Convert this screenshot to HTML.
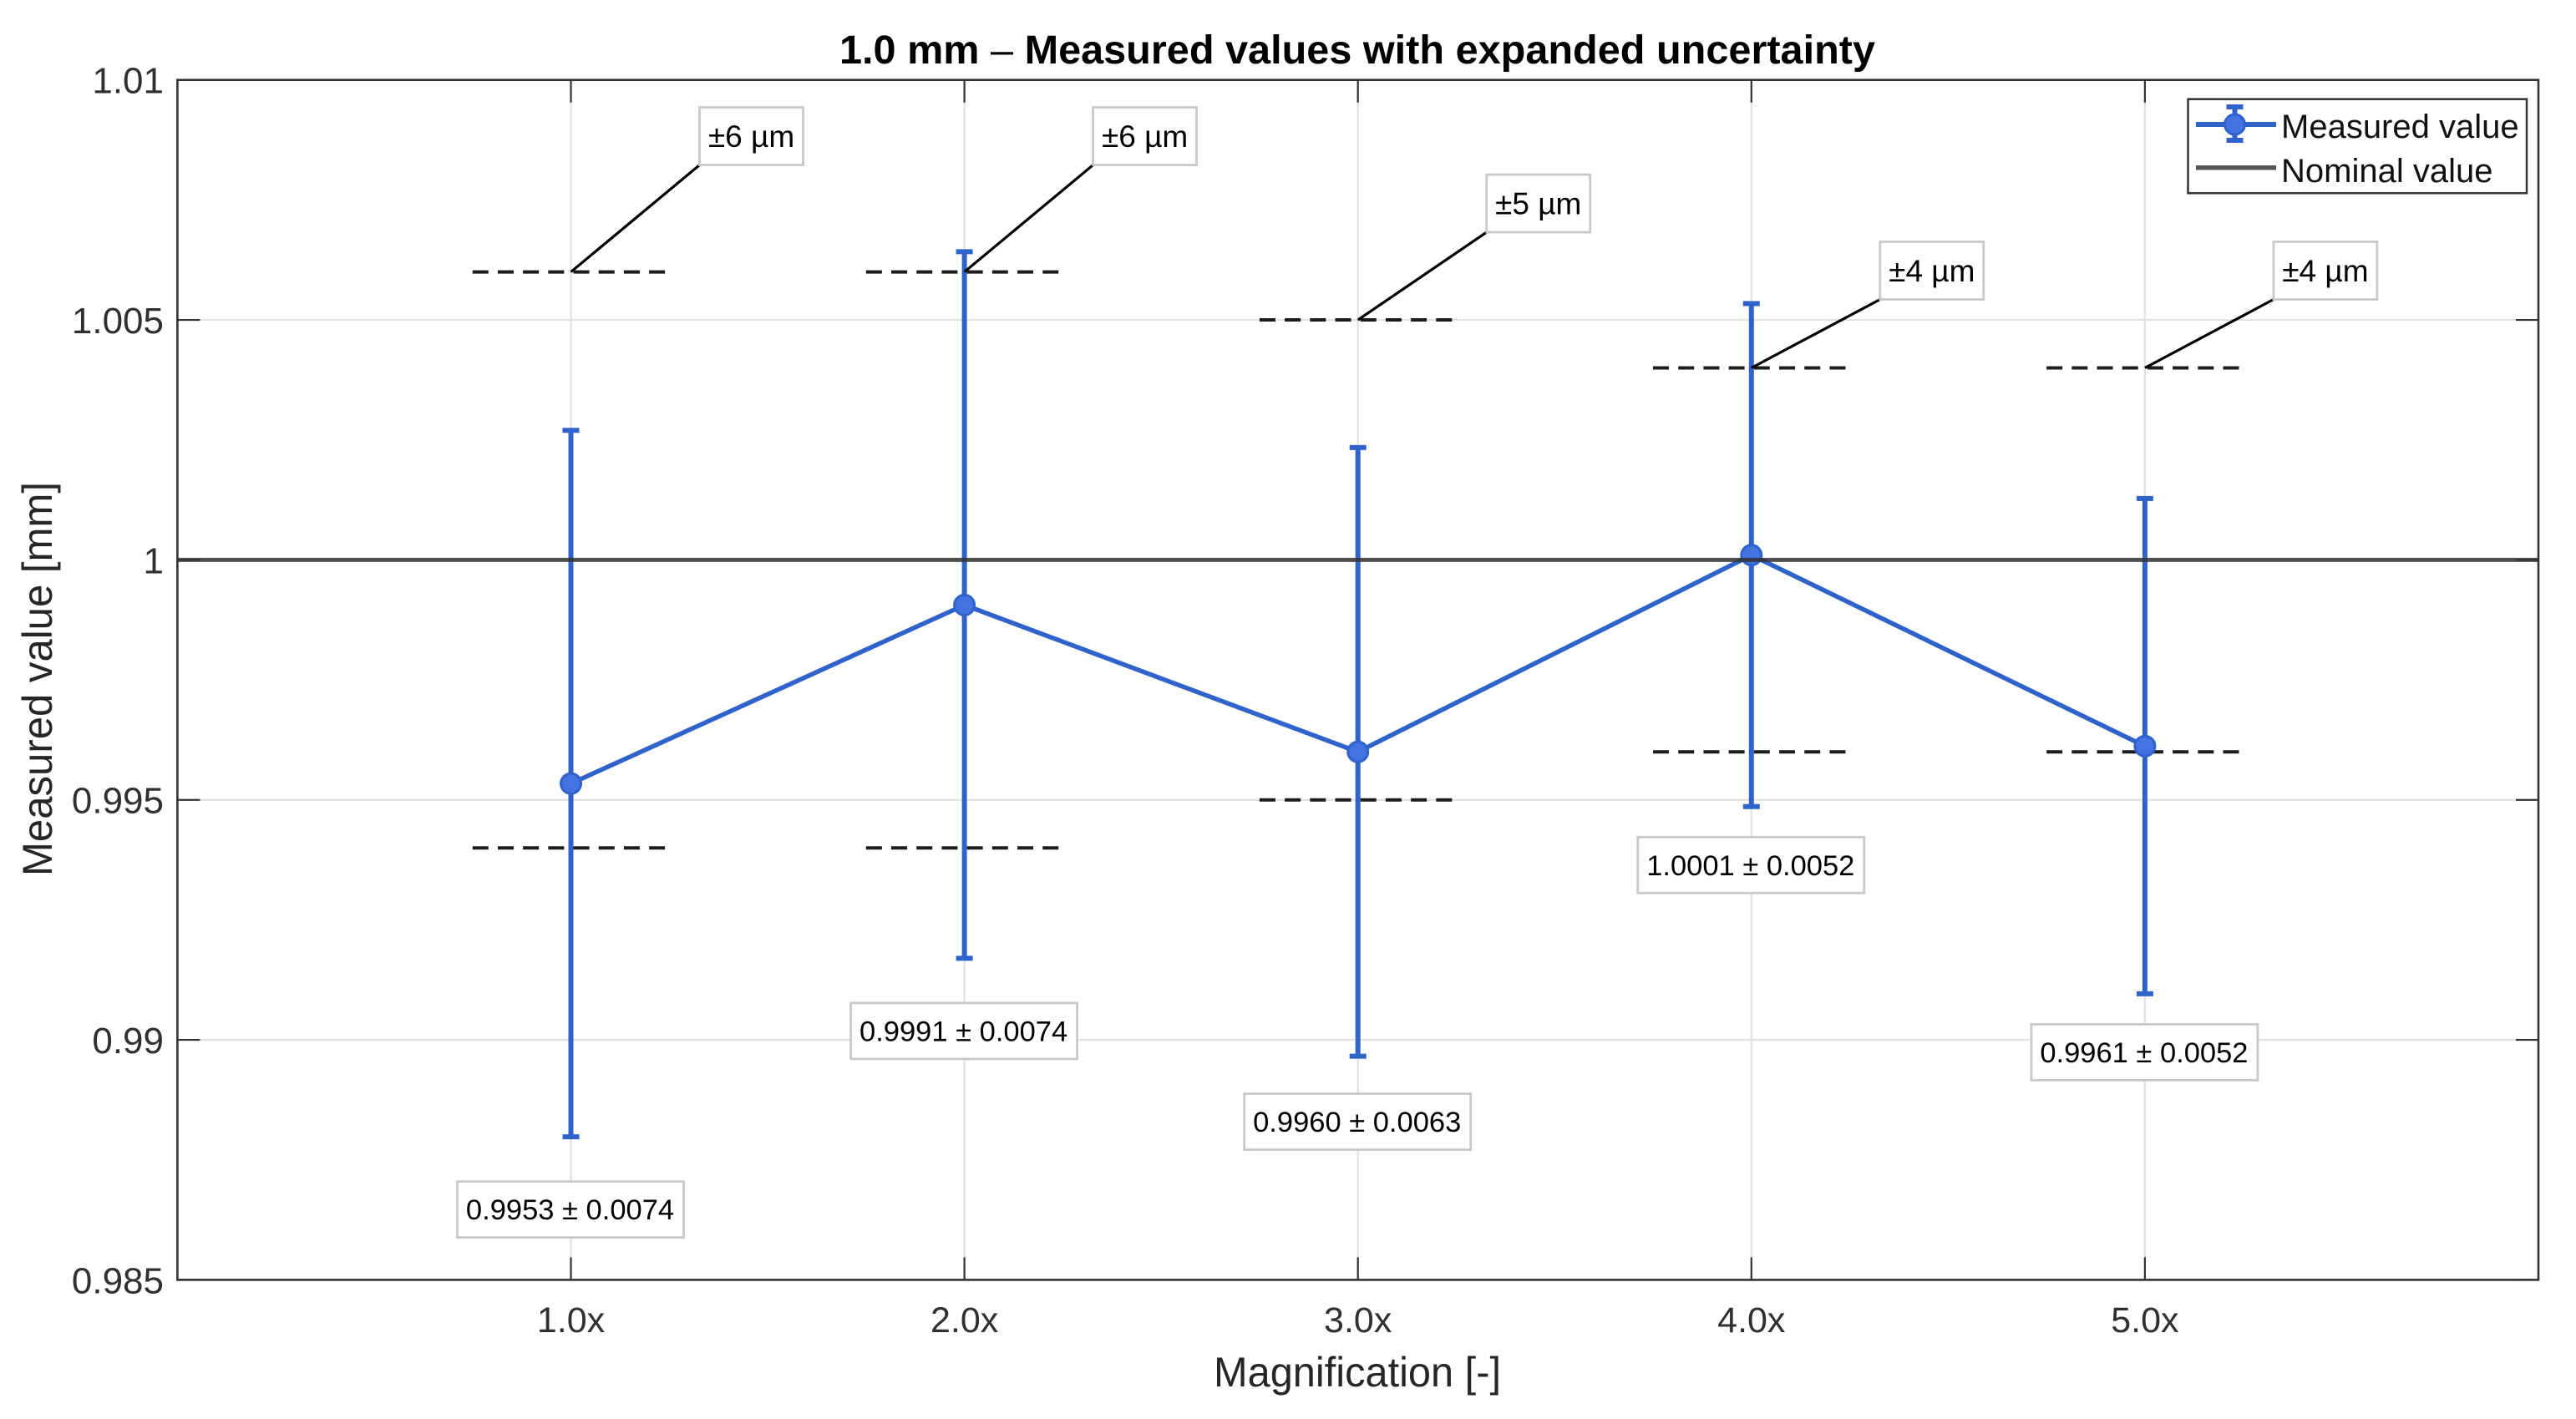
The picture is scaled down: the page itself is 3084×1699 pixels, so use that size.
<!DOCTYPE html>
<html lang="en">
<head>
<meta charset="utf-8">
<title>1.0 mm – Measured values with expanded uncertainty</title>
<style>
  html, body { margin: 0; padding: 0; background: #fff; }
  body { width: 3084px; height: 1699px; overflow: hidden; }
  svg { display: block; font-family: "Liberation Sans", Arial, sans-serif; }
</style>
</head>
<body>
<svg id="chart" xmlns="http://www.w3.org/2000/svg" width="3084" height="1699" viewBox="0 0 3084 1699">
  <rect x="0" y="0" width="3084" height="1699" fill="#ffffff"/>
  <text x="1005" y="76" font-size="48" font-weight="bold" fill="#000" textLength="1240" lengthAdjust="spacingAndGlyphs">1.0 mm <tspan font-weight="normal">–</tspan> Measured values with expanded uncertainty</text>
  <g id="grid"></g>
  <g id="tolerances"></g>
  <g id="series"></g>
  <g id="markers"></g>
  <g id="nominal"></g>
  <g id="axes"></g>
  <g id="annotations"></g>
  <text transform="translate(62,813) rotate(-90)" text-anchor="middle" font-size="50" fill="#262626" textLength="472" lengthAdjust="spacingAndGlyphs">Measured value [mm]</text>
  <text x="1625" y="1660" text-anchor="middle" font-size="50" fill="#262626" textLength="344" lengthAdjust="spacingAndGlyphs">Magnification [-]</text>
  <g>
    <rect x="2619.5" y="118.7" width="405.5" height="112.6" fill="#fff" stroke="#333" stroke-width="2.5"/>
    <g>
      <line x1="2629" y1="149" x2="2725" y2="149" stroke="#2f63cb" stroke-width="6"/>
      <line x1="2675.5" y1="128" x2="2675.5" y2="168" stroke="#2f63cb" stroke-width="6"/>
      <line x1="2665.5" y1="128" x2="2685.5" y2="128" stroke="#2f63cb" stroke-width="6"/>
      <line x1="2665.5" y1="168" x2="2685.5" y2="168" stroke="#2f63cb" stroke-width="6"/>
      <circle cx="2675.5" cy="149" r="12" fill="#4472e0" stroke="#2f63cb" stroke-width="3"/>
      <text x="2731" y="165" font-size="40" fill="#111">Measured value</text>
    </g>
    <g>
      <line x1="2629" y1="200.7" x2="2725" y2="200.7" stroke="#555" stroke-width="5.5"/>
      <text x="2731" y="218" font-size="40" fill="#111">Nominal value</text>
    </g>
  </g>
</svg>
<script>
// ---- chart data ----
const categories = ['1.0x', '2.0x', '3.0x', '4.0x', '5.0x'];
const measured = [0.99534, 0.99906, 0.9960, 1.0001, 0.99612];
const uncertainty = [0.00736, 0.00736, 0.00634, 0.00524, 0.00516];
const toleranceMicrons = [6, 6, 5, 4, 4];
const nominalValue = 1.0;
const yTickValues = [0.985, 0.99, 0.995, 1, 1.005, 1.01];
const yTickLabels = ['0.985', '0.99', '0.995', '1', '1.005', '1.01'];

// ---- axis functions ----
const plot = { left: 212.4, right: 3039, top: 95.7, bottom: 1532.4 };
const xMin = 0, xMax = 6, yMin = 0.985, yMax = 1.01;
function xScale(v) { return plot.left + (v - xMin) / (xMax - xMin) * (plot.right - plot.left); }
function yScale(v) { return plot.bottom - (v - yMin) / (yMax - yMin) * (plot.bottom - plot.top); }

const NS = 'http://www.w3.org/2000/svg';
function mk(parent, tag, attrs, text) {
  const el = document.createElementNS(NS, tag);
  for (const k in attrs) el.setAttribute(k, attrs[k]);
  if (text !== undefined) el.textContent = text;
  parent.appendChild(el);
  return el;
}
const gGrid = document.getElementById('grid');
const gTol = document.getElementById('tolerances');
const gSeries = document.getElementById('series');
const gNominal = document.getElementById('nominal');
const gMarkers = document.getElementById('markers');
const gAxes = document.getElementById('axes');
const gAnn = document.getElementById('annotations');

const axisColor = '#333333';
const tickLen = 27;

// grid
yTickValues.forEach(function (v) {
  const el = mk(gGrid, 'line', { x1: plot.left, x2: plot.right, y1: yScale(v), y2: yScale(v), stroke: '#e1e1e1', 'stroke-width': 2.2 });
  
  
});
categories.forEach(function (c, i) {
  const el = mk(gGrid, 'line', { x1: xScale(i + 1), x2: xScale(i + 1), y1: plot.top, y2: plot.bottom, stroke: '#e1e1e1', 'stroke-width': 2.2 });
  
  
});

// tolerance dashed limits
categories.forEach(function (c, i) {
  const tol = toleranceMicrons[i] / 1000;
  [nominalValue + tol, nominalValue - tol].forEach(function (v) {
    const el = mk(gTol, 'line', {
      x1: xScale(i + 1 - 0.25), x2: xScale(i + 1 + 0.25), y1: yScale(v), y2: yScale(v),
      stroke: '#1c1c1c', 'stroke-width': 4, 'stroke-dasharray': '19 11.2'
    });
    
    
  });
});

// connecting line
const blue = '#2f63cb';
const pts = measured.map(function (v, i) { return xScale(i + 1) + ',' + yScale(v); }).join(' ');
const seriesLine = mk(gSeries, 'polyline', { points: pts, fill: 'none', stroke: blue, 'stroke-width': 5.5 });



// error bars
measured.forEach(function (v, i) {
  const x = xScale(i + 1), hi = yScale(v + uncertainty[i]), lo = yScale(v - uncertainty[i]);
  const bar = mk(gSeries, 'path', {
    d: 'M' + x + ' ' + hi + 'V' + lo + 'M' + (x - 10) + ' ' + hi + 'H' + (x + 10) + 'M' + (x - 10) + ' ' + lo + 'H' + (x + 10),
    fill: 'none', stroke: blue, 'stroke-width': 6
  });
  
  
});

// markers
measured.forEach(function (v, i) {
  const m = mk(gMarkers, 'circle', { cx: xScale(i + 1), cy: yScale(v), r: 12, fill: '#4472e0', stroke: blue, 'stroke-width': 3 });
  
  
});

// nominal line (drawn over the series, slightly translucent)
const nomLine = mk(gNominal, 'line', { x1: plot.left, x2: plot.right, y1: yScale(nominalValue), y2: yScale(nominalValue), stroke: '#333333', 'stroke-width': 5, 'stroke-opacity': 0.85 });



// axes frame
const frame = mk(gAxes, 'rect', { x: plot.left, y: plot.top, width: plot.right - plot.left, height: plot.bottom - plot.top, fill: 'none', stroke: axisColor, 'stroke-width': 2.6 });



// y ticks + labels
yTickValues.forEach(function (v, i) {
  const y = yScale(v);
  const t = mk(gAxes, 'path', { d: 'M' + plot.left + ' ' + y + 'h' + tickLen + 'M' + plot.right + ' ' + y + 'h' + (-tickLen), stroke: axisColor, 'stroke-width': 2.2, fill: 'none' });
  
  
  const l = mk(gAxes, 'text', { x: 196, y: y + 16, 'text-anchor': 'end', 'font-size': 44, fill: '#303030' }, yTickLabels[i]);
  
  
});

// x ticks + labels
categories.forEach(function (c, i) {
  const x = xScale(i + 1);
  const t = mk(gAxes, 'path', { d: 'M' + x + ' ' + plot.top + 'v' + tickLen + 'M' + x + ' ' + plot.bottom + 'v' + (-tickLen), stroke: axisColor, 'stroke-width': 2.2, fill: 'none' });
  
  
  const l = mk(gAxes, 'text', { x: x, y: 1595, 'text-anchor': 'middle', 'font-size': 43, fill: '#303030' }, c);
  
  
});

// annotations
const boxStroke = '#c9c9c9';
measured.forEach(function (v, i) {
  const x = xScale(i + 1);
  const tolUm = toleranceMicrons[i];

  // tolerance callout with leader
  const tipY = yScale(nominalValue + tolUm / 1000);
  const boxLeft = x + 154, boxBottom = tipY - (23 * tolUm - 10), boxW = 124, boxH = 69;
  const leader = mk(gAnn, 'line', { x1: x, y1: tipY, x2: boxLeft, y2: boxBottom, stroke: '#000', 'stroke-width': 3.2 });
  
  
  const tb = mk(gAnn, 'rect', { x: boxLeft, y: boxBottom - boxH, width: boxW, height: boxH, fill: '#fff', stroke: boxStroke, 'stroke-width': 2.8 });
  
  
  const tt = mk(gAnn, 'text', { x: boxLeft + boxW / 2, y: boxBottom - boxH / 2 + 13, 'text-anchor': 'middle', 'font-size': 37, fill: '#000' }, '±' + tolUm + ' µm');
  
  

  // value box under error bar
  const cy = yScale(v - uncertainty[i]) + 36 + 8.5 * tolUm;
  const vb = mk(gAnn, 'rect', { x: x - 136, y: cy - 33.5, width: 271, height: 67, fill: '#fff', stroke: boxStroke, 'stroke-width': 2.8 });
  
  
  const vt = mk(gAnn, 'text', { x: x - 1, y: cy + 12, 'text-anchor': 'middle', 'font-size': 34.5, fill: '#000' }, v.toFixed(4) + ' ± ' + uncertainty[i].toFixed(4));
  
  
});
</script>
</body>
</html>
